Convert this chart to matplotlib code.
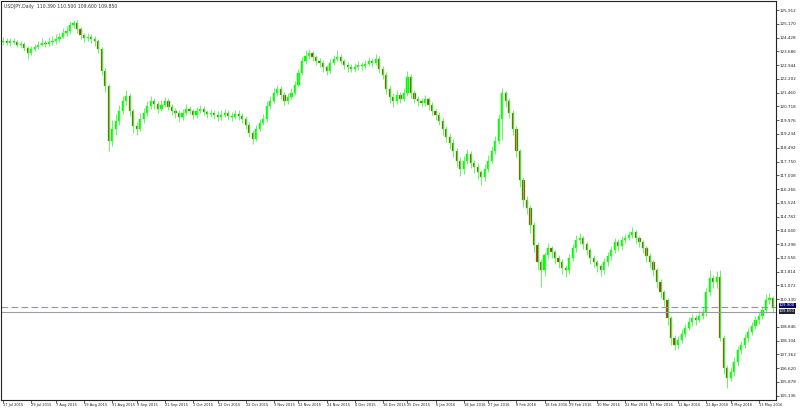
import matplotlib
matplotlib.use("Agg")

import numpy as np
import pandas as pd
import matplotlib.pyplot as plt
from matplotlib.transforms import blended_transform_factory

# USDJPY daily, 17 Jul 2015 - 18 May 2016
opens = [124.20, 124.25, 124.14, 124.25, 124.20, 124.04, 124.09, 123.87, 123.61, 123.82,
         123.93, 124.04, 124.14, 124.09, 124.20, 124.25, 124.36, 124.46, 124.68, 124.79,
         125.11, 125.22, 124.89, 124.57, 124.41, 124.46, 124.36, 124.25, 123.82, 122.64,
         121.83, 118.88, 119.52, 119.95, 120.49, 121.03, 121.30, 120.49, 119.68, 119.52,
         120.06, 120.38, 120.76, 121.03, 120.87, 120.60, 120.81, 121.03, 120.70, 120.49,
         120.38, 120.17, 120.38, 120.60, 120.49, 120.27, 120.49, 120.60, 120.43, 120.33,
         120.38, 120.27, 120.17, 120.27, 120.38, 120.22, 120.17, 120.33, 120.22, 120.06,
         119.74, 119.31, 118.99, 119.52, 119.84, 120.06, 120.76, 121.03, 121.46, 121.67,
         121.35, 121.03, 121.24, 121.46, 121.89, 122.53, 123.18, 123.44, 123.61, 123.39,
         123.18, 123.07, 122.85, 122.64, 123.07, 123.28, 123.39, 123.18, 122.96, 122.85,
         122.75, 122.85, 122.96, 122.91, 123.01, 123.18, 123.07, 123.28, 122.75, 122.42,
         121.67, 121.24, 121.03, 121.35, 121.13, 121.46, 122.32, 121.46, 121.13, 121.03,
         120.92, 121.13, 120.81, 120.49, 120.27, 119.95, 119.52, 119.09, 118.77, 118.34,
         117.80, 117.37, 117.80, 118.13, 117.69, 117.48, 117.16, 116.94, 117.37, 117.80,
         118.34, 118.88, 120.06, 121.46, 121.03, 120.38, 119.52, 118.34, 116.73, 115.65,
         115.22, 114.31, 113.24, 112.32, 111.89, 112.70, 113.07, 112.86, 112.54, 112.32,
         112.00, 111.89, 112.54, 113.07, 113.50, 113.61, 113.29, 112.97, 112.54, 112.32,
         112.11, 111.89, 112.32, 112.64, 112.97, 113.40, 113.18, 113.50, 113.61, 113.77,
         113.93, 113.61, 113.40, 113.07, 112.64, 112.32, 111.89, 111.25, 110.71, 110.28,
         109.31, 108.24, 107.86, 108.13, 108.45, 108.78, 109.10, 109.31, 109.21, 109.42,
         109.63, 110.71, 111.46, 111.25, 111.55, 108.24, 106.62, 106.09, 106.41, 106.95,
         107.59, 107.86, 108.24, 108.56, 108.88, 109.21, 109.42, 109.74, 110.28, 110.39]

highs = [124.45, 124.38, 124.40, 124.42, 124.30, 124.25, 124.18, 123.95, 123.98, 124.10,
         124.25, 124.40, 124.30, 124.45, 124.50, 124.60, 124.70, 124.95, 125.05, 125.30,
         125.40, 125.35, 125.00, 124.70, 124.65, 124.60, 124.50, 124.35, 123.90, 122.80,
         121.95, 120.00, 120.30, 120.80, 121.30, 121.60, 121.45, 120.60, 119.90, 120.35,
         120.65, 121.00, 121.30, 121.20, 121.00, 121.05, 121.25, 121.15, 120.85, 120.65,
         120.50, 120.60, 120.85, 120.75, 120.60, 120.70, 120.80, 120.72, 120.55, 120.60,
         120.55, 120.45, 120.50, 120.60, 120.50, 120.40, 120.55, 120.50, 120.35, 120.20,
         119.90, 119.45, 119.70, 120.05, 120.30, 121.00, 121.30, 121.70, 121.90, 121.80,
         121.50, 121.45, 121.70, 122.10, 122.75, 123.40, 123.75, 123.80, 123.70, 123.50,
         123.35, 123.20, 122.95, 123.25, 123.50, 123.75, 123.55, 123.30, 123.10, 123.00,
         123.05, 123.15, 123.10, 123.20, 123.40, 123.35, 123.55, 123.45, 122.90, 122.55,
         121.80, 121.45, 121.60, 121.50, 121.70, 122.65, 122.45, 121.60, 121.30, 121.20,
         121.35, 121.25, 120.95, 120.60, 120.40, 120.10, 119.65, 119.30, 118.95, 118.50,
         118.00, 118.05, 118.40, 118.30, 117.85, 117.65, 117.30, 117.60, 118.10, 118.60,
         119.10, 120.30, 121.70, 121.55, 121.15, 120.55, 119.65, 118.45, 116.90, 115.90,
         115.40, 114.50, 113.40, 112.50, 112.90, 113.35, 113.20, 113.00, 112.70, 112.50,
         112.20, 112.75, 113.30, 113.80, 113.90, 113.75, 113.40, 113.10, 112.70, 112.45,
         112.25, 112.55, 112.85, 113.20, 113.65, 113.55, 113.75, 113.85, 114.00, 114.20,
         114.05, 113.75, 113.50, 113.20, 112.80, 112.45, 112.00, 111.40, 110.85, 110.40,
         109.45, 108.40, 108.35, 108.70, 109.00, 109.35, 109.55, 109.50, 109.70, 109.85,
         110.95, 111.90, 111.65, 111.85, 111.88, 108.40, 106.80, 106.70, 107.20, 107.80,
         108.10, 108.45, 108.80, 109.10, 109.40, 109.65, 109.95, 110.60, 110.65, 110.50]

lows = [124.05, 124.02, 124.00, 124.08, 123.90, 123.85, 123.70, 123.25, 123.50, 123.70,
        123.80, 123.95, 123.90, 124.00, 124.05, 124.10, 124.20, 124.40, 124.50, 124.60,
        124.95, 124.70, 124.35, 124.20, 124.25, 124.15, 124.00, 123.60, 122.40, 121.50,
        118.30, 118.60, 119.20, 119.70, 120.30, 120.80, 120.20, 119.30, 119.20, 119.40,
        119.85, 120.20, 120.60, 120.60, 120.35, 120.45, 120.70, 120.50, 120.25, 120.10,
        119.90, 120.00, 120.25, 120.30, 120.05, 120.10, 120.35, 120.25, 120.10, 120.15,
        120.05, 119.95, 120.00, 120.15, 120.00, 119.95, 120.05, 120.00, 119.85, 119.50,
        119.05, 118.70, 118.85, 119.40, 119.70, 119.90, 120.60, 120.90, 121.30, 121.10,
        120.80, 120.85, 121.10, 121.35, 121.80, 122.40, 123.00, 123.30, 123.15, 122.95,
        122.85, 122.60, 122.40, 122.50, 122.95, 123.15, 123.00, 122.75, 122.60, 122.55,
        122.55, 122.70, 122.70, 122.75, 122.90, 122.85, 122.95, 122.50, 122.20, 121.40,
        120.90, 120.70, 120.85, 120.90, 121.00, 121.30, 121.20, 120.90, 120.75, 120.70,
        120.75, 120.55, 120.25, 120.00, 119.70, 119.20, 118.80, 118.45, 118.00, 117.45,
        116.95, 117.10, 117.60, 117.40, 117.15, 116.80, 116.50, 116.70, 117.20, 117.65,
        118.15, 118.70, 118.90, 120.70, 120.10, 119.20, 118.00, 116.40, 115.30, 114.90,
        113.90, 112.90, 111.90, 110.98, 111.60, 112.50, 112.55, 112.25, 112.00, 111.70,
        111.55, 111.70, 112.40, 112.90, 113.30, 113.05, 112.70, 112.25, 112.05, 111.80,
        111.60, 111.70, 112.10, 112.45, 112.80, 112.95, 113.00, 113.35, 113.50, 113.65,
        113.35, 113.15, 112.80, 112.35, 112.00, 111.60, 110.95, 110.40, 109.95, 108.95,
        107.85, 107.60, 107.65, 107.95, 108.30, 108.65, 108.90, 108.95, 109.10, 109.25,
        109.45, 110.50, 110.95, 110.95, 108.10, 106.30, 105.55, 105.90, 106.20, 106.75,
        107.40, 107.70, 108.05, 108.40, 108.70, 109.00, 109.25, 109.60, 110.05, 109.60]

closes = [124.25, 124.14, 124.25, 124.20, 124.04, 124.09, 123.87, 123.61, 123.82, 123.93,
          124.04, 124.14, 124.09, 124.20, 124.25, 124.36, 124.46, 124.68, 124.79, 125.11,
          125.22, 124.89, 124.57, 124.41, 124.46, 124.36, 124.25, 123.82, 122.64, 121.83,
          118.88, 119.52, 119.95, 120.49, 121.03, 121.30, 120.49, 119.68, 119.52, 120.06,
          120.38, 120.76, 121.03, 120.87, 120.60, 120.81, 121.03, 120.70, 120.49, 120.38,
          120.17, 120.38, 120.60, 120.49, 120.27, 120.49, 120.60, 120.43, 120.33, 120.38,
          120.27, 120.17, 120.27, 120.38, 120.22, 120.17, 120.33, 120.22, 120.06, 119.74,
          119.31, 118.99, 119.52, 119.84, 120.06, 120.76, 121.03, 121.46, 121.67, 121.35,
          121.03, 121.24, 121.46, 121.89, 122.53, 123.18, 123.44, 123.61, 123.39, 123.18,
          123.07, 122.85, 122.64, 123.07, 123.28, 123.39, 123.18, 122.96, 122.85, 122.75,
          122.85, 122.96, 122.91, 123.01, 123.18, 123.07, 123.28, 122.75, 122.42, 121.67,
          121.24, 121.03, 121.35, 121.13, 121.46, 122.32, 121.46, 121.13, 121.03, 120.92,
          121.13, 120.81, 120.49, 120.27, 119.95, 119.52, 119.09, 118.77, 118.34, 117.80,
          117.37, 117.80, 118.13, 117.69, 117.48, 117.16, 116.94, 117.37, 117.80, 118.34,
          118.88, 120.06, 121.46, 121.03, 120.38, 119.52, 118.34, 116.73, 115.65, 115.22,
          114.31, 113.24, 112.32, 111.89, 112.70, 113.07, 112.86, 112.54, 112.32, 112.00,
          111.89, 112.54, 113.07, 113.50, 113.61, 113.29, 112.97, 112.54, 112.32, 112.11,
          111.89, 112.32, 112.64, 112.97, 113.40, 113.18, 113.50, 113.61, 113.77, 113.93,
          113.61, 113.40, 113.07, 112.64, 112.32, 111.89, 111.25, 110.71, 110.28, 109.31,
          108.24, 107.86, 108.13, 108.45, 108.78, 109.10, 109.31, 109.21, 109.42, 109.63,
          110.71, 111.46, 111.25, 111.55, 108.24, 106.62, 106.09, 106.41, 106.95, 107.59,
          107.86, 108.24, 108.56, 108.88, 109.21, 109.42, 109.74, 110.28, 110.39, 109.85]

first_day = "2015-07-17"
top_tick = 125.912
tick_step = 0.742
n_ticks = 29
ask_price = 109.900
bid_price = 109.650
symbol = "USDJPY,Daily"

# colours close to the MT4 scheme in the picture
up_col = "#00ff00"
down_col = "#b8321e"
wick_col = "#55f055"

n = len(closes)
x = np.arange(n)
dates = pd.bdate_range(first_day, periods=n)
o = np.array(opens)
c = np.array(closes)

fig = plt.figure(figsize=(8, 4.08), dpi=100)
ax = fig.add_axes([0.001, 8 / 408, 775 / 800, 399 / 408])

# wicks then bodies
ax.vlines(x, lows, highs, color=wick_col, linewidth=0.6)
body_bot = np.minimum(o, c)
body_h = np.maximum(np.abs(c - o), 0.03)
faces = [up_col if cc >= oo else down_col for oo, cc in zip(o, c)]
ax.bar(x, body_h, bottom=body_bot, width=0.62, color=faces,
       edgecolor=up_col, linewidth=0.3)

# price lines (ask dashed, bid solid)
ax.axhline(ask_price, color="#8c8cd8", linewidth=0.8, linestyle=(0, (6, 3)))
ax.axhline(bid_price, color="#9a9aa8", linewidth=0.8)

ax.set_xlim(-0.7, n - 0.2)
ax.set_ylim(104.90, 126.40)

# right price scale; MT4 hides the label that sits under the price boxes
price_ticks = [top_tick - tick_step * k for k in range(n_ticks)]
price_ticks = [p for p in price_ticks if abs(p - (ask_price + bid_price) / 2) > 0.3]
ax.yaxis.tick_right()
ax.set_yticks(price_ticks)
ax.set_yticklabels(["%.3f" % p for p in price_ticks])
ax.tick_params(axis="y", length=2, width=0.5, pad=1, labelsize=3.0, colors="#222222")

# date scale
tick_idx = np.unique(np.round(np.arange(0, n - 3, 7.68)).astype(int))
ax.set_xticks(tick_idx)
ax.set_xticklabels([d.strftime("%-d %b %Y") for d in dates[tick_idx]], ha="left")
ax.tick_params(axis="x", length=2, width=0.5, pad=0.5, labelsize=2.6, colors="#222222")

for s in ax.spines.values():
    s.set_color("#222222")
    s.set_linewidth(0.8)

# price boxes on the scale, stacked
tr = blended_transform_factory(ax.transAxes, ax.transData)
ax.text(1.004, ask_price + 0.11, "%.3f" % ask_price, transform=tr, fontsize=2.8,
        color="white", va="center", ha="left", clip_on=False,
        bbox=dict(boxstyle="square,pad=0.1", fc="#000080", ec="none"))
ax.text(1.004, bid_price + 0.02, "%.3f" % bid_price, transform=tr, fontsize=2.8,
        color="white", va="center", ha="left", clip_on=False,
        bbox=dict(boxstyle="square,pad=0.1", fc="#202030", ec="none"))

# header text
ax.text(0.004, 0.993, "%s  %.3f %.3f %.3f %.3f" % (symbol, opens[-1], highs[-1], lows[-1], closes[-1]),
        transform=ax.transAxes, fontsize=3.3, va="top", ha="left", color="#333333")

plt.savefig("out.png", dpi=100, facecolor="white")
